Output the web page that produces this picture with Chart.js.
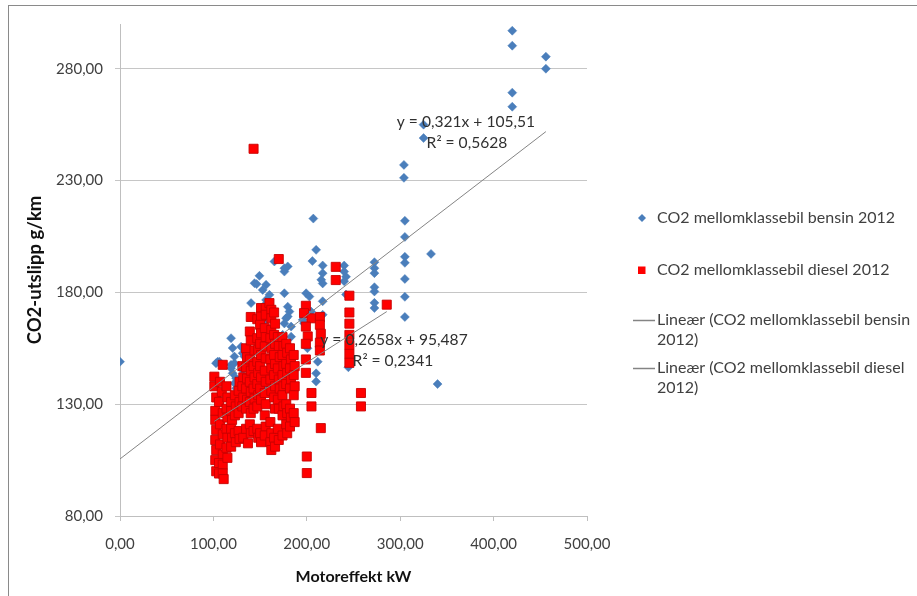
<!DOCTYPE html>
<html>
<head>
<meta charset="utf-8">
<script src="https://cdn.jsdelivr.net/npm/chart.js@4"></script>
<style>
  html, body { margin: 0; padding: 0; background: #fff; overflow: hidden; }
  canvas { display: block; }
</style>
</head>
<body>
<canvas id="chart" width="917" height="596"></canvas>
<script>
// Motor power (kW) against CO2 emissions (g/km) for mid-size cars, 2012

const seriesNames = ['CO2 mellomklassebil bensin 2012', 'CO2 mellomklassebil diesel 2012'];
const xTitle = 'Motoreffekt kW';
const yTitle = 'CO2-utslipp g/km';
const xTicks = [0, 100, 200, 300, 400, 500];
const yTicks = [80, 130, 180, 230, 280];

// Linear trends: [slope, intercept], and R²
const bensinTrend = [0.321, 105.51];
const dieselTrend = [0.2658, 95.487];
const bensinR2 = 0.5628;
const dieselR2 = 0.2341;

// Petrol cars: [kW, g/km]
const bensin = [
  [0,149],[420,297],[420,290.3],[420,269.3],[420,263],[456,285.4],[456,280],
  [325,255],[325,249],[304,237],[304,231.2],[207,213],[305,212],[305,204.8],
  [305,195.9],[305,193.2],[305,186],[305,178],[305,169],[333,197.2],[340,139],
  [210,199],[206,194],[217,192],[217,188.6],[215.5,185.6],[217,184],[217,176],
  [213.5,167],[217,170],
  [240,192],[240,189.3],[242,187],[240,185],[242,179],
  [272.4,193.5],[272.4,190.8],[272.4,188.6],[272.4,182.3],[272.4,180.4],[272.4,175.3],[272.4,173],
  [199.3,179.6],[202.8,178.1],[204.6,171.4],[206.3,168.4],[195.6,167.7],[197,166.2],
  [179.6,191.6],[176,189.3],[165.3,193.8],[176,190.8],
  [149.3,187.4],[144,184.1],[146.3,183.7],[156.4,183.4],[152.8,181.1],[160,178.9],
  [156.4,176.6],[140.3,175.2],
  [155,174.4],[155,171.9],[155,169.5],[155,167],[155,164.6],[155,162.3],
  [176,179.6],[179.6,173.6],[181.4,171.4],[177.8,168.4],[176,166.1],[179.6,169.2],
  [183.2,164.7],[174.2,161],[168.8,156.5],[183.2,160.2],
  [118.9,159.5],[120.6,155.1],[122.5,151.3],[118.9,147.6],[120.6,143.8],[124.3,141.6],
  [122.5,139.4],[124.3,137.1],[127.8,134.9],[122.5,132.7],[118.9,146.1],[122.5,148.3],
  [104.6,149],[102.8,148.3],[106.4,149],[104.6,132.7],
  [129.6,155.7],[131.3,152.8],[133.2,151.3],[135,148.3],[131.3,145.3],
  [162,151.5],[162,147],[161,143.8],[164,140.7],[163,138],[165.3,145.3],[172.5,143.1],
  [151,141.6],[154.6,138.6],[149.3,135.6],[143.9,133.4],[138.5,131.9],[145.7,131.1],
  [210,143.8],[210,140.1],[211.7,149],[244.5,146.5],[200.7,155],[185,143.1]
];

// Diesel cars: [kW, g/km]
const diesel = [
  [101,142.3],[101,138],[103,133],[102,127],[102,123],[103,118.5],[102,114],[103,109.5],[102,105],[103,100],
  [110,147.6],[107,140],[109,135.5],[106,131],[110,126],[107,121],[110,116.5],[107,112],[110,107.5],
  [106,103.7],[110,103],[106,99],[110,99],[111,96.5],
  [114,138],[115,133],[114,128],[115,124],[114,119],[115,115],[114,110.5],[115,106],
  [119,131],[119,127],[120,123],[119,119],[120,115],[119,111],
  [123,134],[124,129],[123,125],[123,117],[124,113],
  [128,140],[127,136],[128,131],[127,126],[127,118],[128,114.5],
  [131,147],[132,142],[131,138],[132,133],[131,129],[132,115],
  [135,155],[136,151],[135,146.5],[136,141.5],[135,137],[136,132],[135,128],[135,119],[137,112.5],
  [140,169],[139,162.5],[140,158.5],[139,150],[140,145],[139,140],[140,135.5],[139,131],[140,126],[139,121],[140,117],
  [143,244.2],[144,154],[143,147],[144,142],[143,137],[144,132.5],[143,128],[143,118],
  [147,168],[147,159.5],[148,154.3],[147,149],[148,144],[147,139],[148,134],[147,129],[147,119],[148,115],
  [151,173],[151,169.2],[150,165.5],[151,161.7],[150,157],[151,152],[150,147],[151,142],[150,137],
  [151,132],[150,117],[151,113],
  [156,173],[156,170],[155,164],[156,160],[155,155.8],[156,150.5],[155,145],[156,140],[155,135],
  [156,130],[155,125],[156,120],[155,116],
  [160,175.2],[162,172.2],[162,168.4],[162,163.2],[161,159.5],[162,155],[161,150],[162,146],[161,141],
  [162,136],[161,122],[162,117],[161,113],[162,109.5],
  [165,171],[166,166],[165,161],[166,157],[165,152],[166,148],[165,143],[166,138],[165,133],
  [166,128],[165,115],[166,111],
  [170,194.9],[169,160],[170,156],[171,151],[169,146],[170,141],[171,137],[169,132],[170,128],
  [169,119],[170,114],
  [174,160],[175,156],[174,152],[175,147],[174,143],[175,138],[174,134],[175,129],[174,125],[174,116],
  [178,157],[179,153],[178,148],[179,144],[178,139],[178,130],[179,126],[178,121],[179,117],
  [182,155],[183,150],[182,146],[183,141],[182,137],[182,128],[183,124],[182,120],
  [186,152],[187,147],[186,143],[187,138],[186,134],[186,126],[187,122],
  [199,174],[197,170.7],[205,168.4],[199,164.7],[201,160.3],[199,157],[199,150],[199,144],
  [205,135],[205,129],[200,106.6],[200,99.2],
  [214,169],[214,165.5],[215,161.5],[214,157.5],[214,154],[215,119.3],
  [231,191.4],[231,185.5],
  [245.6,178.5],[245.6,171],[245.6,166],[245.6,161],[245.6,156.5],[245.6,152.5],[245.6,148.5],
  [258,135],[258,129],[285.6,174.5]
];

const BLUE = '#4a7ebb';
const RED = '#ff0000';
const TREND = '#848484';
const FONT = 'Lato, "Open Sans", sans-serif';
const TEXT = '#404040';

const toPts = arr => arr.map(p => ({ x: p[0], y: p[1] }));
const comma = v => String(v).replace('.', ',');
const fix2 = v => v.toFixed(2).replace('.', ',');

function trendLine(coef, xs) {
  const lo = Math.min(...xs), hi = Math.max(...xs);
  return [{ x: lo, y: coef[0] * lo + coef[1] }, { x: hi, y: coef[0] * hi + coef[1] }];
}
const bensinLine = trendLine(bensinTrend, bensin.map(p => p[0]));
const dieselLine = trendLine(dieselTrend, diesel.map(p => p[0]));

// Frame, axis titles, trend equations and legend
const decorations = {
  id: 'decorations',
  beforeDraw(chart) {
    const ctx = chart.ctx;
    ctx.save();
    ctx.fillStyle = '#fff';
    ctx.fillRect(0, 0, chart.width, chart.height);
    ctx.strokeStyle = '#8a8a8a';
    ctx.lineWidth = 1;
    ctx.strokeRect(8.5, 5.5, 1000, 1000);
    ctx.restore();
  },
  afterDatasetsDraw(chart) {
    const ctx = chart.ctx;
    ctx.save();
    ctx.fillStyle = '#303030';
    ctx.textAlign = 'center';
    ctx.textBaseline = 'middle';
    ctx.font = '15.6px ' + FONT;
    ctx.fillText('y = ' + comma(bensinTrend[0]) + 'x + ' + comma(bensinTrend[1]), 466, 122);
    ctx.fillText('R\u00b2 = ' + comma(bensinR2), 467, 143);
    ctx.fillText('y = ' + comma(dieselTrend[0]) + 'x + ' + comma(dieselTrend[1]), 394, 340);
    ctx.fillText('R\u00b2 = ' + comma(dieselR2), 393, 361);
    ctx.restore();
  },
  afterDraw(chart) {
    const ctx = chart.ctx;
    const area = chart.chartArea;
    ctx.save();
    // axis titles
    ctx.fillStyle = '#111';
    ctx.textAlign = 'center';
    ctx.textBaseline = 'middle';
    ctx.font = 'bold 16px ' + FONT;
    ctx.fillText(xTitle, (area.left + area.right) / 2, 577);
    ctx.save();
    ctx.translate(35, (area.top + area.bottom) / 2);
    ctx.rotate(-Math.PI / 2);
    ctx.font = 'bold 18.5px ' + FONT;
    ctx.fillText(yTitle, 0, 0);
    ctx.restore();

    // legend
    ctx.font = '16px ' + FONT;
    ctx.textAlign = 'left';
    ctx.fillStyle = TEXT;
    const tx = 657, maxW = 265, lineH = 20;
    const wrap = text => {
      const words = text.split(' ');
      const lines = [];
      let cur = '';
      for (const w of words) {
        const t = cur ? cur + ' ' + w : w;
        if (cur && ctx.measureText(t).width > maxW) { lines.push(cur); cur = w; }
        else cur = t;
      }
      lines.push(cur);
      return lines;
    };
    const items = [
      { kind: 'diamond', text: seriesNames[0], y: 218 },
      { kind: 'square', text: seriesNames[1], y: 270 },
      { kind: 'line', text: 'Line\u00e6r (' + seriesNames[0] + ')', y: 320 },
      { kind: 'line', text: 'Line\u00e6r (' + seriesNames[1] + ')', y: 368 }
    ];
    for (const it of items) {
      if (it.kind === 'diamond') {
        ctx.fillStyle = BLUE;
        ctx.beginPath();
        ctx.moveTo(642, it.y - 4); ctx.lineTo(646, it.y); ctx.lineTo(642, it.y + 4); ctx.lineTo(638, it.y);
        ctx.closePath(); ctx.fill();
      } else if (it.kind === 'square') {
        ctx.fillStyle = RED;
        ctx.fillRect(638, it.y - 3.5, 7.5, 7.5);
      } else {
        ctx.strokeStyle = TREND;
        ctx.lineWidth = 1.5;
        ctx.beginPath(); ctx.moveTo(633, it.y + 0.5); ctx.lineTo(655, it.y + 0.5); ctx.stroke();
      }
      ctx.fillStyle = TEXT;
      wrap(it.text).forEach((ln, i) => ctx.fillText(ln, tx, it.y + i * lineH));
    }
    ctx.restore();
  }
};

function draw() {
  new Chart(document.getElementById('chart'), {
    type: 'scatter',
    data: {
      datasets: [
        {
          label: seriesNames[0],
          data: toPts(bensin),
          pointStyle: 'rectRot',
          pointRadius: 4.5,
          backgroundColor: BLUE,
          borderColor: BLUE,
          borderWidth: 0.5,
          order: 2
        },
        {
          label: seriesNames[1],
          data: toPts(diesel),
          pointStyle: 'rect',
          pointRadius: 6.4,
          backgroundColor: RED,
          borderColor: '#c80000',
          borderWidth: 0.9,
          order: 1
        },
        {
          label: 'Line\u00e6r (' + seriesNames[0] + ')',
          data: bensinLine,
          showLine: true,
          pointRadius: 0,
          borderColor: TREND,
          borderWidth: 1,
          order: 0
        },
        {
          label: 'Line\u00e6r (' + seriesNames[1] + ')',
          data: dieselLine,
          showLine: true,
          pointRadius: 0,
          borderColor: TREND,
          borderWidth: 1,
          order: 0
        }
      ]
    },
    options: {
      responsive: false,
      animation: false,
      events: [],
      layout: { padding: { left: 0, top: 24, right: 330, bottom: 0 } },
      plugins: {
        legend: { display: false },
        tooltip: { enabled: false }
      },
      scales: {
        x: {
          type: 'linear',
          min: xTicks[0],
          max: xTicks[xTicks.length - 1],
          afterBuildTicks: s => { s.ticks = xTicks.map(v => ({ value: v })); },
          afterFit: s => { s.height = 80; },
          grid: { drawOnChartArea: false, drawTicks: true, tickLength: 5, color: '#bfbfbf' },
          border: { display: true, color: '#bfbfbf' },
          ticks: {
            padding: 14,
            color: TEXT,
            font: { family: FONT, size: 15 },
            maxRotation: 0,
            callback: v => fix2(v)
          }
        },
        y: {
          type: 'linear',
          min: yTicks[0],
          max: 300,
          afterBuildTicks: s => { s.ticks = yTicks.map(v => ({ value: v })); },
          afterFit: s => { s.width = 120; },
          grid: { drawTicks: true, tickLength: 5, color: '#c6c6c6' },
          border: { display: true, color: '#bfbfbf' },
          ticks: {
            padding: 12,
            color: TEXT,
            font: { family: FONT, size: 15 },
            callback: v => fix2(v)
          }
        }
      }
    },
    plugins: [decorations]
  });
}

if (document.fonts && document.fonts.load) {
  Promise.all([
    document.fonts.load('15px Lato'),
    document.fonts.load('bold 16px Lato')
  ]).then(draw, draw);
} else {
  draw();
}
</script>
</body>
</html>
